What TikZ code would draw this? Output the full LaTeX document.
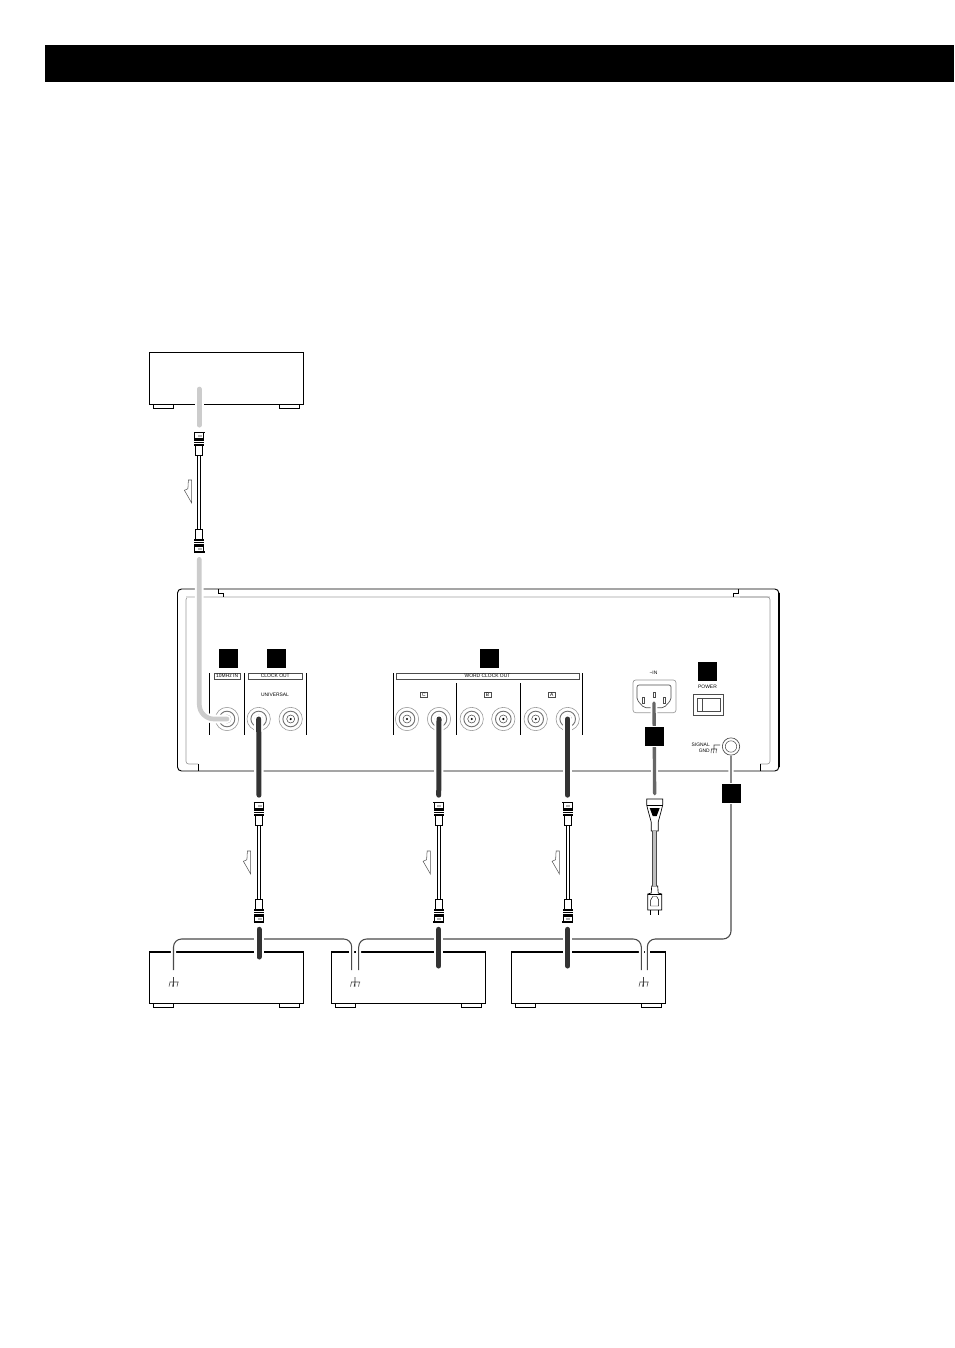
\documentclass[tikz,border=0pt]{standalone}
\usepackage{fontspec}
\setmainfont{Liberation Sans}
\usepackage{xcolor}
\usetikzlibrary{positioning}
\definecolor{cabledark}{HTML}{333333}
\definecolor{cablelight}{HTML}{CCCCCC}
\definecolor{cablepower}{HTML}{666666}
\definecolor{wiregray}{HTML}{4A4A4A}
\definecolor{paneledge}{HTML}{9A9A9A}
\definecolor{panellight}{HTML}{DDDDDD}
\newcommand{\tinylabel}{\fontsize{3.7}{4.4}\selectfont}
\tikzset{
  headbar/.style={
    rectangle, fill=black, inner sep=0pt, outer sep=0pt,
    minimum width=681.75pt, minimum height=27.75pt
  },
  devbox/.style={
    rectangle, draw=black, fill=white, line width=0.65pt, inner sep=0pt, outer sep=0pt,
    minimum width=116pt, minimum height=39pt
  },
  foot/.style={
    rectangle, draw=black, fill=white, line width=0.55pt, inner sep=0pt, outer sep=0pt,
    minimum width=15pt, minimum height=3pt
  },
  panelbox/.style={
    rectangle, rounded corners=3pt, draw=black, line width=0.7pt, inner sep=0pt, outer sep=0pt,
    minimum width=451pt, minimum height=136.5pt
  },
  tagbox/.style={
    rectangle, fill=black, draw=white, line width=0.7pt, inner sep=0pt,
    minimum size=15pt
  },
  labelbar/.style={
    rectangle, draw=black!70, line width=0.35pt, inner sep=0pt, align=center,
    minimum height=3.8pt, font=\tinylabel
  },
  letterbox/.style={labelbar, minimum width=5.5pt},
  paneltext/.style={inner sep=0pt, align=center, font=\tinylabel},
  jack/.style={
    circle, draw=paneledge, fill=white, line width=0.45pt, inner sep=0pt,
    minimum size=17.5pt
  },
  divider/.style={draw=black, line width=0.6pt},
  halo/.style={preaction={draw=white, line width=#1, line cap=round}},
  darkcable/.style={draw=cabledark, line width=3.75pt, line cap=round, halo=7pt},
  lightcable/.style={draw=cablelight, line width=3.5pt, line cap=round, halo=6.5pt},
  powercable/.style={draw=cablepower, line width=2.5pt, line cap=round, halo=5pt},
  thincable/.style={draw=black, line width=0.55pt, double=white, double distance=1.7pt},
  powercord/.style={draw=black!70, line width=0.5pt, double=black!25, double distance=2.4pt},
  gndwire/.style={
    draw=wiregray, line width=0.8pt, rounded corners=6pt,
    preaction={draw=white, line width=3.8pt}
  },
  bncplug/.pic={
    \draw[fill=white, line width=0.6pt] (-3.5,0) rectangle (3.5,-10);
    \fill[black] (-5,-10) rectangle (5,-17);
    \draw[white, line width=0.45pt] (-5,-12.3) -- (5,-12.3) (-5,-14.6) -- (5,-14.6);
    \draw[fill=white, line width=0.6pt] (-4.5,-17) rectangle (4.5,-23);
    \fill[black!30] (-1.5,-18.5) rectangle (2.5,-21);
    \draw[line width=0.9pt] (-5.3,-23) -- (5.3,-23);
    \coordinate (-end) at (0,0);
    \coordinate (-tip) at (0,-23);
  },
  flowarrow/.pic={
    \draw[draw=black!65, fill=white, line width=0.4pt]
      (-3.3,0) -- (0,0) -- (0,23) -- (-7.3,10.3) -- (-3.8,8.7) -- cycle;
  },
  gndmark/.pic={
    \draw[black!75, line width=0.4pt]
      (0,-6) -- (0,3.5) (-4,-1) -- (5,-1)
      (-3.5,-1) -- (-4.5,3.5) (0,-1) -- (-1,3.5) (4.5,-1) -- (3.5,3.5);
  },
  iecplug/.pic={
    \draw[fill=white, line width=0.5pt]
      (-8,0) -- (8,0) -- (8,6) -- (6.5,12) -- (3.5,23) -- (3.5,32) -- (-3.5,32)
      -- (-3.5,23) -- (-6.5,12) -- (-8,6) -- cycle;
    \draw[line width=0.35pt] (-8,6) -- (8,6);
    \fill[black] (-5,9) -- (5,9) -- (2,17) -- (-2,17) -- cycle;
    \coordinate (-in) at (0,0);
    \coordinate (-out) at (0,32);
  },
  wallplug/.pic={
    \draw[fill=white, line width=0.5pt]
      (-3,0) -- (3,0) -- (3.5,7) -- (7,8) -- (7,24) -- (-7,24) -- (-7,8) -- (-3.5,7) -- cycle;
    \draw[line width=0.5pt] (-7,8) -- (7,8);
    \draw[line width=0.35pt] (-4,20) -- (-4,14) -- (-2,10.5) -- (2,10.5) -- (4,14) -- (4,20) -- cycle;
    \draw[line width=0.5pt] (-4,24) -- (-4,29) (4,24) -- (4,29);
    \coordinate (-in) at (0,0);
  }
}

\begin{document}
\begin{tikzpicture}[x=0.75pt, y=-0.75pt]
        \useasboundingbox (0,0) rectangle (954,1348);
        \node[headbar, anchor=north west] (bar) at (45,45) {};

        \node[panelbox, anchor=north west] (panel) at (177.5,589) {};
        \draw[black, line width=1pt] (panel.west |- 0,593) -- (panel.west |- 0,767)
          (panel.east |- 0,593) -- (panel.east |- 0,767);
        \draw[paneledge, line width=0.5pt, rounded corners=2pt]
          (198,764) -- (186,764) -- (186,597) -- (218,597);
        \draw[panellight, line width=1.3pt] (186,597) -- (770,597);
        \draw[paneledge, line width=0.5pt, rounded corners=2pt]
          (760,764) -- (770,764) -- (770,597) -- (740,597);
        \draw[black, line width=0.5pt] (198,771) -- (198,764) (760,771) -- (760,764);
        \draw[black, line width=0.6pt] (218,589) -- (218,593) -- (223,593) -- (223,597);
        \draw[black, line width=0.6pt] (738,589) -- (738,593) -- (733.5,593) -- (733.5,597);

        \foreach \x/\ytop in {209.3/673, 244.3/673, 306.3/673, 393.3/673, 456.3/683, 520.3/683, 582.3/673}
          \draw[divider] (\x,\ytop) -- (\x,735);

        \node[labelbar, minimum width=20pt] (tenlabel) at (227.2,676.2) {10MHz IN};
        \node[labelbar, minimum width=41pt] (clocklabel) at (275.3,676.2) {CLOCK OUT};
        \node[labelbar, minimum width=137pt] (wordlabel) at (487.5,676.2) {WORD CLOCK OUT};
        \node[paneltext] (unitext) at (275,695) {UNIVERSAL};
        \node[letterbox] (cbox) at (424,694.5) {C};
        \node[letterbox] (bbox) at (487.5,694.5) {B};
        \node[letterbox] (abox) at (551.7,694.5) {A};
        \node[paneltext] (acin) at (653.5,673) {\textasciitilde IN};
        \node[paneltext] (powertext) at (707.5,687) {POWER};
        \node[paneltext, align=right, anchor=east] (gndtext) at (710,748) {SIGNAL\\GND};

        \foreach \n/\x in {ten/227, uni/258.7, unb/290.7, wc/407, wcc/439, wb/471.7, wbb/503.3, wa/535.7, waa/567.7} {
          \node[jack] (\n) at (\x,719) {};
          \draw[black!55, line width=0.7pt] (\n.center) circle (7.8);
          \draw[black!70, line width=0.4pt] (\n.center) circle (4);
          \fill[black] (\n.center) circle (1.2);
        }

        \draw[draw=paneledge, line width=0.5pt, rounded corners=2pt] (633,680) rectangle (676,712.7);
        \draw[black!70, line width=0.5pt, rounded corners=1.5pt]
          (637,685) -- (671,685) -- (671,700) -- (664,707.7) -- (644,707.7) -- (637,700) -- cycle;
        \draw[black!70, line width=0.4pt]
          (642,697.5) rectangle (644.5,703) (653,692) rectangle (655.5,697.5) (663,697.5) rectangle (665.5,703);
        \coordinate (pinout) at (654,703);
        \draw[black!70, line width=0.5pt] (693,694) rectangle (723,715);
        \draw[black!70, line width=0.4pt] (697,698) rectangle (720,711) (702.5,698) -- (702.5,711);

        \node[circle, draw=black!70, line width=0.5pt, fill=white, inner sep=0pt, minimum size=13pt] (gndjack) at (731,746.5) {};
        \draw[black!70, line width=0.4pt] (gndjack.center) circle (5.7);
        \draw[black!75, line width=0.4pt] (720,745) -- (714,745) -- (714,749)
          (711,749) -- (717,749) (711.5,749) -- (711,753) (714,749) -- (713.5,753) (716.5,749) -- (716,753);

        \node[devbox, anchor=north west] (srcdev) at (149,352) {};
        \node[devbox, anchor=north west] (devone) at (149,951.7) {};
        \node[devbox, right=20.5pt of devone] (devtwo) {};
        \node[devbox, right=19pt of devtwo] (devthree) {};
        \foreach \d in {srcdev, devone, devtwo, devthree} {
          \node[foot, below right=0pt and 3pt of \d.south west] (\d-fl) {};
          \node[foot, below left=0pt and 3pt of \d.south east] (\d-fr) {};
          \draw[black, line width=1pt] (\d.north east) -- (\d.south east);
        }
        \foreach \d in {devone, devtwo, devthree}
          \draw[black, line width=1.3pt] (\d.north west) -- (\d.north east);

        \coordinate (lvl) at (0,939);
        \coordinate (gnda) at (173.5,970);
        \coordinate (gndb) at (351.7,970);
        \coordinate (gndc) at (358.7,970);
        \coordinate (gndd) at (641.3,970);
        \coordinate (gnde) at (647.3,970);
        \draw[gndwire] (gnda) |- (lvl -| gndb) -- (gndb);
        \draw[gndwire] (gndc) |- (lvl -| gndd) -- (gndd);
        \draw[gndwire] (gndjack.south) |- (lvl -| gnde) -- (gnde);
        \foreach \x in {173.5, 355, 643.5}
          \pic at (\x,983) {gndmark};

        \pic (srctop) at (199.3,455.5) {bncplug};
        \pic[yscale=-1] (srcbot) at (199.3,529) {bncplug};
        \draw[thincable] (srctop-end) -- (srcbot-end);
        \pic at (191.7,480) {flowarrow};
        \coordinate (srcout) at (199.3,389);
        \draw[lightcable, shorten >=5.5pt] (srcout) -- (srctop-tip);
        \draw[lightcable, rounded corners=11pt, shorten <=5.5pt] (srcbot-tip) |- (ten.center);

        \foreach \n/\x/\ylow/\j in {a/259/957/uni, b/438.7/966/wcc, c/567.7/966/waa} {
          \pic (\n top) at (\x,825.5) {bncplug};
          \pic[yscale=-1] (\n bot) at (\x,899) {bncplug};
          \draw[thincable] (\n top-end) -- (\n bot-end);
          \pic at (\x-8.3,851) {flowarrow};
          \coordinate (\n in) at (\x,\ylow);
          \draw[darkcable, shorten >=5.5pt] (\j.center) -- (\n top-tip);
          \draw[darkcable, shorten <=5.5pt] (\n bot-tip) -- (\n in);
        }

        \pic (iec) at (654.7,799) {iecplug};
        \pic (wall) at (654.7,886) {wallplug};
        \draw[powercord] (iec-out) -- (wall-in);
        \draw[powercable, shorten >=4pt] (pinout) -- (iec-in);

        \node[tagbox] (tagten) at (228,658) {};
        \node[tagbox] (tagclock) at (276,658) {};
        \node[tagbox] (tagword) at (489.5,658) {};
        \node[tagbox] (tagpower) at (707.5,671.5) {};
        \node[tagbox] (tagac) at (654.5,736.5) {};
        \node[tagbox] (taggnd) at (731.5,793.5) {};
      \end{tikzpicture}
\end{document}
